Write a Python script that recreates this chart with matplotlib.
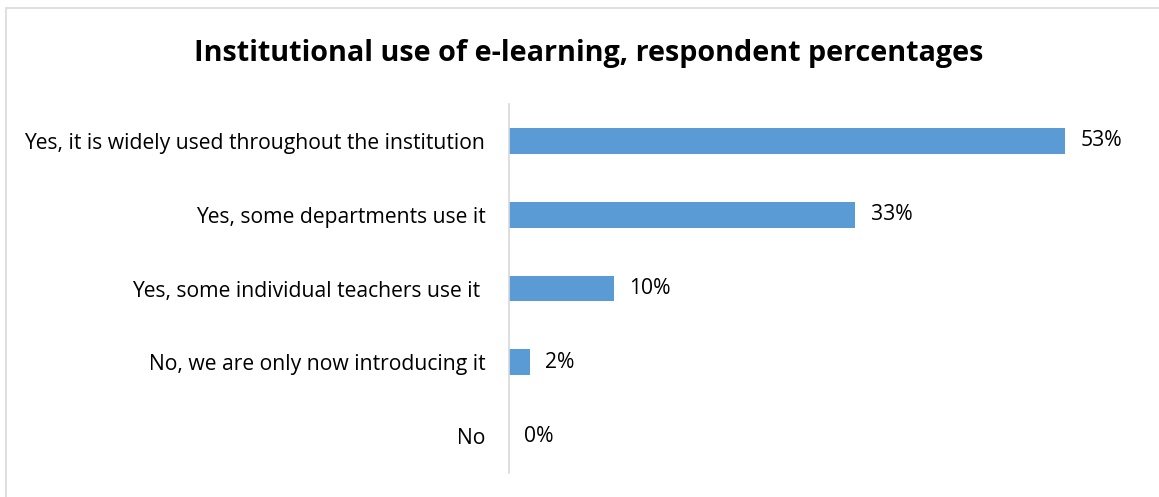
import matplotlib
matplotlib.use("Agg")
import matplotlib.pyplot as plt
from matplotlib.patches import Rectangle

categories = [
    "Yes, it is widely used throughout the institution",
    "Yes, some departments use it",
    "Yes, some individual teachers use it ",
    "No, we are only now introducing it",
    "No",
]
values = [53, 33, 10, 2, 0]
value_labels = ["53%", "33%", "10%", "2%", "0%"]
title = "Institutional use of e-learning, respondent percentages"

plt.rcParams['font.family'] = ['Open Sans', 'DejaVu Sans']

W, H = 1159, 497
fig = plt.figure(figsize=(W / 100, H / 100), dpi=100)
fig.patch.set_facecolor('white')

# chart border
fig.patches.append(Rectangle((6 / W, -0.1), 1.2, (H - 8) / H + 0.1,
                             transform=fig.transFigure, fill=False,
                             edgecolor='#d9d9d9', linewidth=1.2))

ax = fig.add_axes([509 / W, (H - 473) / H, (1139 - 509) / W, (473 - 104) / H])
y = list(range(len(categories)))
ax.barh(y, values, height=0.35, color='#5B9BD5')
ax.set_ylim(len(categories) - 0.5, -0.5)
ax.set_xlim(0, 60)
ax.set_yticks(y)
ax.set_yticklabels(categories, fontsize=15.2, color='#000000')
ax.tick_params(axis='y', length=0, pad=17)
ax.set_xticks([])
for s in ['top', 'right', 'bottom']:
    ax.spines[s].set_visible(False)
ax.spines['left'].set_color('#d9d9d9')
ax.spines['left'].set_linewidth(1.2)

for yi, v, lab in zip(y, values, value_labels):
    ax.annotate(lab, (v, yi), xytext=(11, 0), textcoords='offset points',
                va='center', ha='left', fontsize=15.2, color='#000000')

fig.text(589 / W, 1 - 53 / H, title, ha='center', va='center',
         fontsize=20.7, fontweight='bold', color='#000000')

fig.savefig('out.png', dpi=100, facecolor='white')
